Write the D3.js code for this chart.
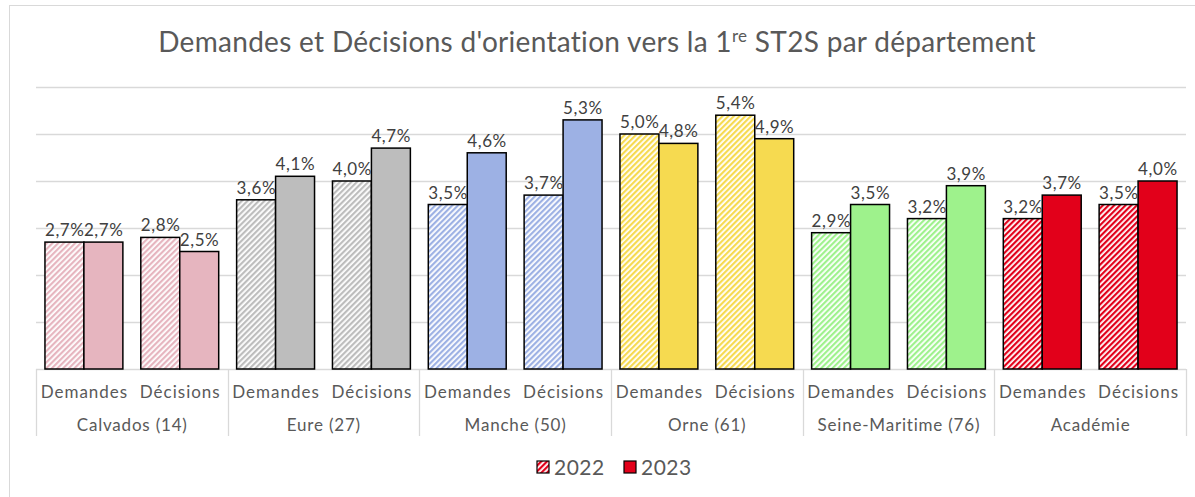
<!DOCTYPE html>
<html><head><meta charset="utf-8">
<script src="https://cdn.jsdelivr.net/npm/d3@7"></script>
<style>
html,body{margin:0;padding:0;background:#fff;}
svg{display:block;font-family:Lato, "Noto Sans", sans-serif;}
</style></head>
<body><svg id="c" width="1195" height="497"></svg>
<script>
const groups = ["Calvados (14)", "Eure (27)", "Manche (50)", "Orne (61)", "Seine-Maritime (76)", "Académie"];
const subcats = ["Demandes", "Décisions"];
const years = ["2022", "2023"];
const demandes2022 = [2.7, 3.6, 3.5, 5.0, 2.9, 3.2];
const demandes2023 = [2.7, 4.1, 4.6, 4.8, 3.5, 3.7];
const decisions2022 = [2.8, 4.0, 3.7, 5.4, 3.2, 3.5];
const decisions2023 = [2.5, 4.7, 5.3, 4.9, 3.9, 4.0];
const yTicks = [1, 2, 3, 4, 5, 6];
const groupColors = ["#E6B5BF", "#BDBDBD", "#9DB1E4", "#F6DA50", "#9EF28C", "#E2001A"];

const values = {
  "Demandes": {"2022": demandes2022, "2023": demandes2023},
  "Décisions": {"2022": decisions2022, "2023": decisions2023}
};
const rows = [];
groups.forEach((g, gi) => subcats.forEach(s => years.forEach(yr => rows.push({g, gi, s, yr, v: values[s][yr][gi]}))));

const svg = d3.select("#c");
const plotLeft = 36, plotRight = 1186, plotTop = 87, plotBase = 369;

svg.append("rect").attr("x", 9.5).attr("y", 5.5).attr("width", 1200).attr("height", 520)
  .attr("fill", "#fff").attr("stroke", "#D9D9D9").attr("stroke-width", 1);

const defs = svg.append("defs");
groupColors.forEach((c, i) => {
  const p = defs.append("pattern").attr("id", "h" + i).attr("patternUnits", "userSpaceOnUse")
    .attr("width", 4).attr("height", 4).attr("patternTransform", "rotate(45)");
  p.append("rect").attr("width", 4).attr("height", 4).attr("fill", "#fff");
  p.append("rect").attr("width", 2.2).attr("height", 4).attr("fill", c);
});

const x0 = d3.scaleBand().domain(groups).range([plotLeft, plotRight]).padding(0);
const x1 = d3.scaleBand().domain(subcats).range([0, x0.bandwidth()]).padding(0);
const x2 = d3.scaleBand().domain(years).range([0, x1.bandwidth()]).paddingInner(0).paddingOuter(0.23);
const y = d3.scaleLinear().domain([0, 6]).range([plotBase, plotTop]);

svg.append("g").selectAll("line").data(yTicks).join("line")
  .attr("x1", plotLeft).attr("x2", plotRight)
  .attr("y1", d => Math.round(y(d)) + 0.5).attr("y2", d => Math.round(y(d)) + 0.5)
  .attr("stroke", "#D9D9D9").attr("stroke-width", 1.3);

svg.append("line").attr("x1", plotLeft).attr("x2", plotRight).attr("y1", plotBase + 0.5).attr("y2", plotBase + 0.5)
  .attr("stroke", "#D9D9D9").attr("stroke-width", 1.3);
const seps = groups.map(g => x0(g)).concat([plotRight]);
svg.append("g").selectAll("line").data(seps).join("line")
  .attr("x1", d => Math.round(d) + 0.5).attr("x2", d => Math.round(d) + 0.5)
  .attr("y1", plotBase).attr("y2", 436)
  .attr("stroke", "#D9D9D9").attr("stroke-width", 1.3);

const bx = d => x0(d.g) + x1(d.s) + x2(d.yr);
svg.append("g").selectAll("rect").data(rows).join("rect")
  .attr("x", bx).attr("width", x2.bandwidth())
  .attr("y", d => y(d.v)).attr("height", d => y(0) - y(d.v))
  .attr("fill", d => d.yr === "2022" ? `url(#h${d.gi})` : groupColors[d.gi])
  .attr("stroke", "#000").attr("stroke-width", 1.5);

const fmt = v => d3.format(".1f")(v).replace(".", ",") + "%";
svg.append("g").selectAll("text").data(rows).join("text")
  .attr("x", d => bx(d) + x2.bandwidth() / 2 + 0.3).attr("y", d => y(d.v) - 6)
  .attr("text-anchor", "middle").attr("font-size", 17).attr("letter-spacing", 0.6).attr("fill", "#404040")
  .text(d => fmt(d.v));

const subRows = [];
groups.forEach(g => subcats.forEach(s => subRows.push({g, s})));
svg.append("g").selectAll("text").data(subRows).join("text")
  .attr("x", d => x0(d.g) + x1(d.s) + x1.bandwidth() / 2 + 0.5).attr("y", 398)
  .attr("text-anchor", "middle").attr("font-size", 17).attr("letter-spacing", 1).attr("fill", "#595959")
  .text(d => d.s);
svg.append("g").selectAll("text").data(groups).join("text")
  .attr("x", d => x0(d) + x0.bandwidth() / 2 + 0.4).attr("y", 431)
  .attr("text-anchor", "middle").attr("font-size", 17).attr("letter-spacing", 0.8).attr("fill", "#595959")
  .text(d => d);

const t = svg.append("text").attr("x", 597).attr("y", 52).attr("text-anchor", "middle")
  .attr("font-size", 28).attr("letter-spacing", 0.3).attr("fill", "#595959");
t.append("tspan").text("Demandes et Décisions d'orientation vers la 1");
t.append("tspan").attr("font-size", 17).attr("dy", -10).text("re");
t.append("tspan").attr("dy", 10).text(" ST2S par département");

const lg = svg.append("g");
const legItems = [{yr: "2022", x: 537}, {yr: "2023", x: 624}];
legItems.forEach(it => {
  lg.append("rect").attr("x", it.x).attr("y", 461).attr("width", 12).attr("height", 12)
    .attr("fill", it.yr === "2022" ? "url(#h5)" : groupColors[5]).attr("stroke", "#000").attr("stroke-width", 1.2);
  lg.append("text").attr("x", it.x + 17).attr("y", 475).attr("font-size", 21).attr("letter-spacing", 0.5).attr("fill", "#595959").text(it.yr);
});
</script></body></html>
